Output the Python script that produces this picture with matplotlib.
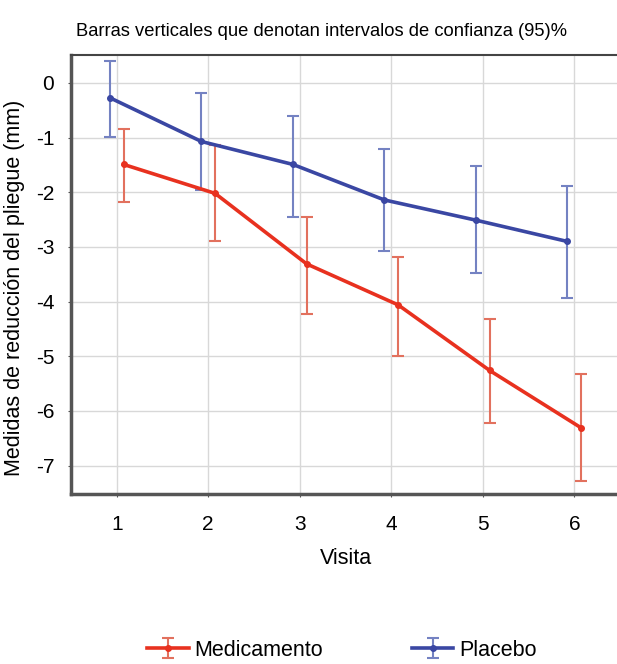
import matplotlib.pyplot as plt
import numpy as np
from matplotlib.legend_handler import HandlerErrorbar

plt.rcParams["font.family"] = ["Liberation Sans", "DejaVu Sans"]

visits = [1, 2, 3, 4, 5, 6]

med_mean = [-1.49, -2.02, -3.31, -4.06, -5.26, -6.31]
med_low = [-2.17, -2.90, -4.23, -4.99, -6.22, -7.29]
med_high = [-0.85, -1.13, -2.46, -3.19, -4.31, -5.33]

pla_mean = [-0.27, -1.07, -1.49, -2.14, -2.51, -2.90]
pla_low = [-0.99, -1.95, -2.45, -3.07, -3.48, -3.93]
pla_high = [0.40, -0.18, -0.60, -1.21, -1.52, -1.89]

yticks = [0, -1, -2, -3, -4, -5, -6, -7]

RED = "#e8311f"
RED_ERR = "#e2715e"
BLUE = "#3a47a3"
BLUE_ERR = "#7482c2"


def plot_series(ax, x, mean, low, high, color, ecolor, label):
    mean = np.array(mean)
    yerr = [mean - np.array(low), np.array(high) - mean]
    ax.errorbar(x, mean, yerr=yerr, color=color, ecolor=ecolor, lw=2.6, elinewidth=1.5,
                capsize=4, capthick=1.5, marker="o", ms=4, label=label, zorder=3)


fig = plt.figure(figsize=(6.17, 6.64), dpi=100)
ax = fig.add_axes([0.115, 0.256, 0.89, 0.661])

x = np.array(visits, dtype=float)
plot_series(ax, x + 0.075, med_mean, med_low, med_high, RED, RED_ERR, "Medicamento")
plot_series(ax, x - 0.075, pla_mean, pla_low, pla_high, BLUE, BLUE_ERR, "Placebo")

ax.set_xlim(0.5, 6.5)
ax.set_ylim(-7.52, 0.51)
ax.set_xticks(visits)
ax.set_yticks(yticks)
ax.set_yticklabels([str(v) for v in yticks])
ax.tick_params(labelsize=15, length=2, color="#555555")
ax.tick_params(axis="x", pad=13)
ax.tick_params(axis="y", pad=10)
ax.grid(True, color="#d8d8d8", lw=1)
ax.set_axisbelow(True)

for side in ["left", "bottom"]:
    ax.spines[side].set_linewidth(2.5)
    ax.spines[side].set_color("#555555")
ax.spines["top"].set_linewidth(1.5)
ax.spines["top"].set_color("#444444")
ax.spines["right"].set_visible(False)

ax.set_xlabel("Visita", fontsize=15.5, labelpad=10)
ax.set_ylabel("Medidas de reducción del pliegue (mm)", fontsize=15.5)
ax.yaxis.set_label_coords(-0.083, 0.47)
ax.set_title("Barras verticales que denotan intervalos de confianza (95)%", fontsize=13.2, pad=14, x=0.457)

handles, labels = ax.get_legend_handles_labels()
fig.legend(handles, labels, loc="center", bbox_to_anchor=(0.554, 0.021), ncol=2,
           frameon=False, fontsize=15.5, columnspacing=4.1, handlelength=1.95, handletextpad=0.25,
           handler_map={type(handles[0]): HandlerErrorbar(yerr_size=0.45)})

plt.savefig("out.png", dpi=100)
plt.close()
